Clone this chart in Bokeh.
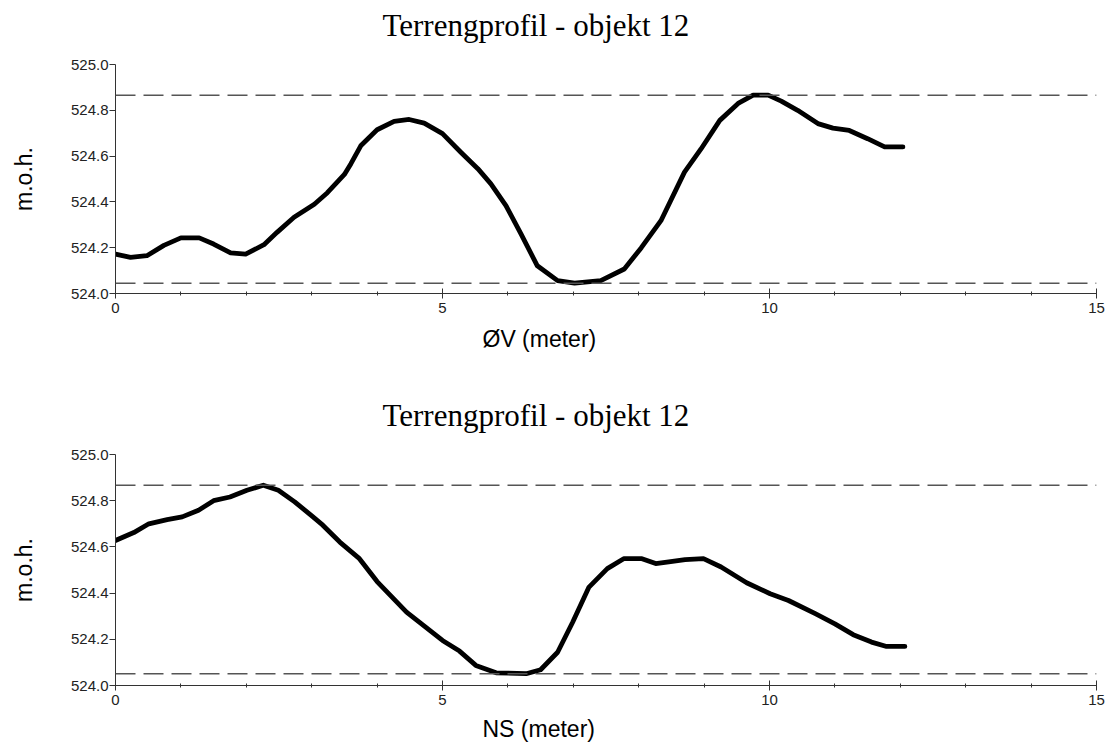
from bokeh.plotting import figure
from bokeh.layouts import column
from bokeh.models import Span, FixedTicker, PrintfTickFormatter, Title, Range1d
from bokeh.embed import file_html
from bokeh.resources import INLINE

# ---- data ----
chart_title = "Terrengprofil - objekt 12"
y_label = "m.o.h."
ov_label = "ØV (meter)"
ns_label = "NS (meter)"

ov_x = [0.0, 0.23, 0.48, 0.74, 1.0, 1.28, 1.5, 1.76, 1.99, 2.27, 2.47, 2.73, 3.04, 3.24,
        3.5, 3.6, 3.75, 4.0, 4.26, 4.49, 4.72, 5.0, 5.28, 5.54, 5.74, 5.97, 6.2, 6.45,
        6.76, 7.02, 7.42, 7.78, 8.04, 8.34, 8.7, 8.95, 9.24, 9.52, 9.75, 9.98, 10.18,
        10.43, 10.74, 10.97, 11.22, 11.5, 11.76, 12.04]
ov_z = [524.172, 524.158, 524.165, 524.21, 524.243, 524.243, 524.216, 524.177, 524.172,
        524.213, 524.267, 524.333, 524.39, 524.44, 524.52, 524.567, 524.645, 524.715,
        524.752, 524.76, 524.744, 524.698, 524.617, 524.545, 524.479, 524.384, 524.26,
        524.121, 524.056, 524.045, 524.056, 524.107, 524.2, 524.318, 524.53, 524.63,
        524.756, 524.83, 524.866, 524.866, 524.84, 524.8, 524.742, 524.722, 524.712,
        524.676, 524.64, 524.64]

ns_x = [0.0, 0.28, 0.51, 0.79, 1.02, 1.27, 1.5, 1.75, 2.01, 2.26, 2.49, 2.74, 3.02, 3.17,
        3.43, 3.73, 4.0, 4.45, 5.0, 5.26, 5.51, 5.82, 6.28, 6.5, 6.76, 6.99, 7.24, 7.52,
        7.77, 8.05, 8.26, 8.46, 8.71, 8.99, 9.26, 9.65, 10.01, 10.29, 10.7, 11.0, 11.28,
        11.56, 11.79, 12.07]
ns_z = [524.628, 524.662, 524.7, 524.718, 524.73, 524.759, 524.8, 524.816, 524.845,
        524.867, 524.845, 524.795, 524.73, 524.694, 524.621, 524.549, 524.45, 524.318,
        524.195, 524.149, 524.087, 524.055, 524.051, 524.068, 524.144, 524.274, 524.426,
        524.506, 524.549, 524.549, 524.528, 524.535, 524.545, 524.549, 524.513, 524.445,
        524.397, 524.368, 524.311, 524.267, 524.22, 524.188, 524.169, 524.169]

x_major_ticks = [0, 5, 10, 15]
x_minor_ticks = [1, 2, 3, 4, 6, 7, 8, 9, 11, 12, 13, 14]
y_ticks = [524.0, 524.2, 524.4, 524.6, 524.8, 525.0]
x_limits = (0, 15)
y_limits = (524.0, 525.0)


def make(xs, zs, xlabel, top, fh, bottom, right, below_spacer):
    p = figure(width=1110, height=top + fh + bottom,
               x_range=Range1d(*x_limits), y_range=Range1d(*y_limits),
               output_backend="svg", toolbar_location=None,
               min_border_left=115, min_border_right=right,
               min_border_top=top, min_border_bottom=bottom,
               background_fill_color="white", border_fill_color="white")
    p.outline_line_color = None
    p.grid.visible = False

    # thin spacer panel between frame and chart title
    p.add_layout(Title(text=" ", text_font_size="2px", standoff=14), "above")
    p.title.text = chart_title
    p.title.align = "left"
    p.title.offset = 267
    p.title.standoff = 8
    p.title.text_font = "Liberation Serif"
    p.title.text_font_style = "normal"
    p.title.text_font_size = "31px"
    p.title.text_color = "black"

    for loc in (max(zs), min(zs)):
        p.add_layout(Span(location=loc, dimension="width", line_dash="20 8",
                          line_color="#555555", line_width=1.5))

    p.line(xs, zs, line_color="black", line_width=4.8, line_join="round", line_cap="round")

    xa = p.xaxis[0]
    xa.ticker = FixedTicker(ticks=x_major_ticks, minor_ticks=x_minor_ticks)
    xa.major_tick_in = 5
    xa.major_tick_out = 5
    xa.minor_tick_in = 2
    xa.minor_tick_out = 2
    xa.major_label_standoff = 4
    xa.axis_line_color = "#333333"
    xa.major_tick_line_color = "#333333"
    xa.minor_tick_line_color = "#333333"
    xa.major_label_text_font = "Liberation Sans"
    xa.major_label_text_font_size = "15px"
    xa.major_label_text_color = "#222222"

    ya = p.yaxis[0]
    ya.ticker = FixedTicker(ticks=y_ticks)
    ya.formatter = PrintfTickFormatter(format="%.1f")
    ya.major_tick_in = 0
    ya.major_tick_out = 6
    ya.minor_tick_line_color = None
    ya.major_label_standoff = 1
    ya.axis_line_color = "#333333"
    ya.major_tick_line_color = "#333333"
    ya.major_label_text_font = "Liberation Sans"
    ya.major_label_text_font_size = "15px"
    ya.major_label_text_color = "#222222"
    ya.axis_label = y_label
    ya.axis_label_standoff = 31
    ya.axis_label_text_font = "Liberation Sans"
    ya.axis_label_text_font_style = "normal"
    ya.axis_label_text_font_size = "23px"
    ya.axis_label_text_color = "black"

    # spacer between tick labels and x-axis title, then the title itself
    p.add_layout(Title(text=" ", text_font_size="2px", standoff=below_spacer), "below")
    p.add_layout(Title(text=xlabel, align="left", offset=367, standoff=0,
                       text_font="Liberation Sans", text_font_style="normal",
                       text_font_size="23px", text_color="black"), "below")
    return p


p1 = make(ov_x, ov_z, ov_label, 64, 229, 77, 14, 4)
p2 = make(ns_x, ns_z, ns_label, 84, 231, 59, 10, 2)
layout = column(p1, p2, spacing=0)

open("out.html", "w").write(file_html(layout, INLINE))
